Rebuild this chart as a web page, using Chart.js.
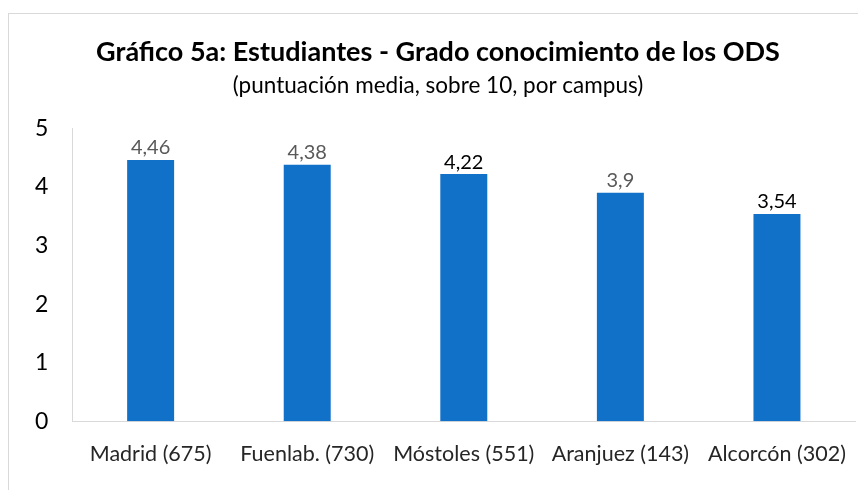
<!DOCTYPE html>
<html>
<head>
<meta charset="utf-8">
<script src="https://cdn.jsdelivr.net/npm/chart.js@4"></script>
<style>
html,body{margin:0;padding:0;background:#fff;}
#wrap{width:858px;height:490px;position:relative;}
</style>
</head>
<body>
<div id="wrap"><canvas id="c" width="858" height="490"></canvas></div>
<script>
const categories = ["Madrid (675)", "Fuenlab. (730)", "Móstoles (551)", "Aranjuez (143)", "Alcorcón (302)"];
const values = [4.46, 4.38, 4.22, 3.9, 3.54];
const valueLabels = ["4,46", "4,38", "4,22", "3,9", "3,54"];
const labelColors = ["#595959", "#595959", "#000000", "#595959", "#000000"];
const yTicks = [0, 1, 2, 3, 4, 5];
const titleText = "Gráfico 5a: Estudiantes - Grado conocimiento de los ODS";
const subtitleText = "(puntuación media, sobre 10, por campus)";

const FONT = "Lato, 'Open Sans', sans-serif";

const frame = {
  id: 'frame',
  beforeDraw(chart) {
    const ctx = chart.ctx;
    ctx.save();
    ctx.fillStyle = '#fff';
    ctx.fillRect(0, 0, chart.width, chart.height);
    ctx.strokeStyle = '#d9d9d9';
    ctx.lineWidth = 1;
    ctx.strokeRect(8.5, 13.5, chart.width, chart.height);
    ctx.restore();
  }
};

const dataLabels = {
  id: 'dataLabels',
  afterDatasetsDraw(chart) {
    const ctx = chart.ctx;
    const meta = chart.getDatasetMeta(0);
    ctx.save();
    ctx.font = "20px " + FONT;
    ctx.textAlign = 'center';
    ctx.textBaseline = 'bottom';
    meta.data.forEach((bar, i) => {
      ctx.fillStyle = labelColors[i];
      ctx.fillText(valueLabels[i], bar.x, bar.y - 2);
    });
    ctx.restore();
  }
};

new Chart(document.getElementById('c'), {
  type: 'bar',
  data: {
    labels: categories,
    datasets: [{
      data: values,
      backgroundColor: '#1170c8',
      borderWidth: 0,
      barPercentage: 0.3,
      categoryPercentage: 1.0
    }]
  },
  options: {
    responsive: false,
    animation: false,
    layout: { padding: { top: 36, left: 19, right: 1, bottom: 11 } },
    plugins: {
      legend: { display: false },
      tooltip: { enabled: false },
      title: {
        display: true,
        text: titleText,
        color: '#000',
        font: { family: FONT, size: 27, weight: 'bold' },
        padding: { top: 0, bottom: 4 }
      },
      subtitle: {
        display: true,
        text: subtitleText,
        color: '#000',
        font: { family: FONT, size: 22.5 },
        padding: { top: 0, bottom: 29 }
      }
    },
    scales: {
      x: {
        grid: { display: false },
        border: { display: true, color: '#d9d9d9', width: 1 },
        ticks: { color: '#262626', font: { family: FONT, size: 21.5 }, padding: 12, maxRotation: 0, autoSkip: false }
      },
      y: {
        min: 0,
        max: 5,
        afterBuildTicks(scale) { scale.ticks = yTicks.map(v => ({ value: v })); },
        grid: { display: false },
        border: { display: true, color: '#d9d9d9', width: 1 },
        ticks: { color: '#000', font: { family: FONT, size: 23 }, padding: 16 }
      }
    }
  },
  plugins: [frame, dataLabels]
});
</script>
</body>
</html>
